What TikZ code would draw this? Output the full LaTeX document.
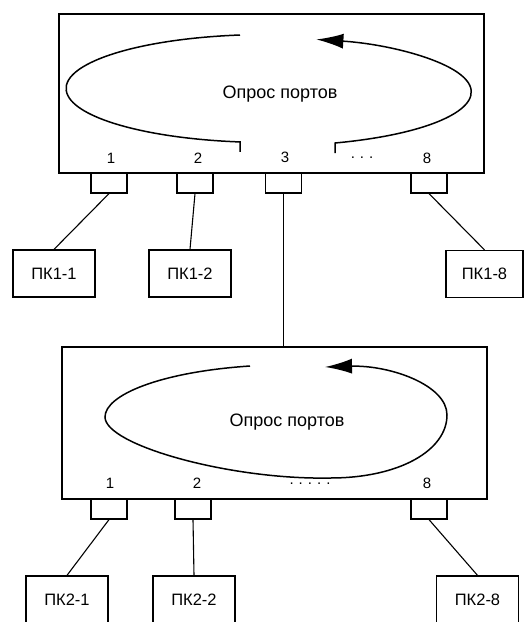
\documentclass[tikz,border=0pt]{standalone}
\usepackage{fontspec}
\setmainfont{Liberation Sans}
\usetikzlibrary{arrows.meta}

\begin{document}
\begin{tikzpicture}[x=1pt,y=1pt,
    hub/.style={draw,line width=1.4pt,minimum width=425pt,minimum height=159pt},
    port/.style={draw,line width=1.2pt,minimum width=36pt,minimum height=20pt},
    pc/.style={draw,line width=1.3pt,minimum width=82pt,minimum height=47pt,
      font=\fontsize{16.5}{19}\selectfont},
    num/.style={font=\fontsize{15}{18}\selectfont},
    poll/.style={font=\fontsize{18}{21}\selectfont},
    loop/.style={line width=1.5pt},
    wire/.style={line width=1.1pt}]
    \useasboundingbox (0,0) rectangle (524,-622);
    % first hub
    \node[hub] (hub1) at (271.5,-93.5) {};
    \node[port] (p11) at (109,-183) {};
    \node[port] (p12) at (195,-183) {};
    \node[port] (p13) at (283.5,-183) {};
    \node[port] (p18) at (429,-183) {};
    \node[num] (n11) at (111,-158) {1};
    \node[num] (n12) at (198,-158) {2};
    \node[num] (n13) at (285,-157) {3};
    \node[num] (d1) at (362,-158) {.\,\,.\,\,.};
    \node[num] (n18) at (427,-158) {8};
    \node[poll] (t1) at (280,-94) {Опрос портов};
    \draw[loop] (240,-35) arc[start angle=98,end angle=262,x radius=202,y radius=54] -- ++(0,-10);
    \draw[loop,-{Latex[length=27pt,width=15pt]}] (335,-153) -- ++(0,10)
      arc[start angle=289,end angle=436.5,x radius=202,y radius=54];
    \node[pc] (pc11) at (54,-273.5) {ПК1-1};
    \node[pc] (pc12) at (190,-273.5) {ПК1-2};
    \node[pc,minimum width=77pt] (pc18) at (484.5,-274) {ПК1-8};
    \draw[wire] (p11.south) -- (pc11.north);
    \draw[wire] (p12.south) -- (pc12.north);
    \draw[wire] (p18.south) -- (pc18.north);
    % second hub
    \node[hub,minimum height=152pt] (hub2) at (274.5,-423) {};
    \draw[wire] (p13.south) -- (p13.south |- hub2.north);
    \node[port] (p21) at (109,-509) {};
    \node[port] (p22) at (193,-509) {};
    \node[port] (p28) at (429,-509) {};
    \node[num] (n21) at (110,-483) {1};
    \node[num] (n22) at (197,-483) {2};
    \node[num] (d2) at (310,-484) {.\,\,.\,\,.\,\,.\,\,.};
    \node[num] (n28) at (427,-483) {8};
    \node[poll] (t2) at (287,-422) {Опрос портов};
    \draw[loop,-{Latex[length=27pt,width=15pt]}] (250,-366)
      .. controls (160,-372) and (105,-395) .. (105,-417)
      .. controls (105,-445) and (230,-480) .. (330,-478)
      .. controls (400,-478) and (447,-450) .. (447,-415)
      .. controls (447,-385) and (390,-365) .. (325,-367);
    \node[pc] (pc21) at (67,-599.5) {ПК2-1};
    \node[pc] (pc22) at (194,-599.5) {ПК2-2};
    \node[pc] (pc28) at (477.5,-599.5) {ПК2-8};
    \draw[wire] (p21.south) -- (pc21.north);
    \draw[wire] (p22.south) -- (pc22.north);
    \draw[wire] (p28.south) -- (pc28.north);
\end{tikzpicture}
\end{document}
